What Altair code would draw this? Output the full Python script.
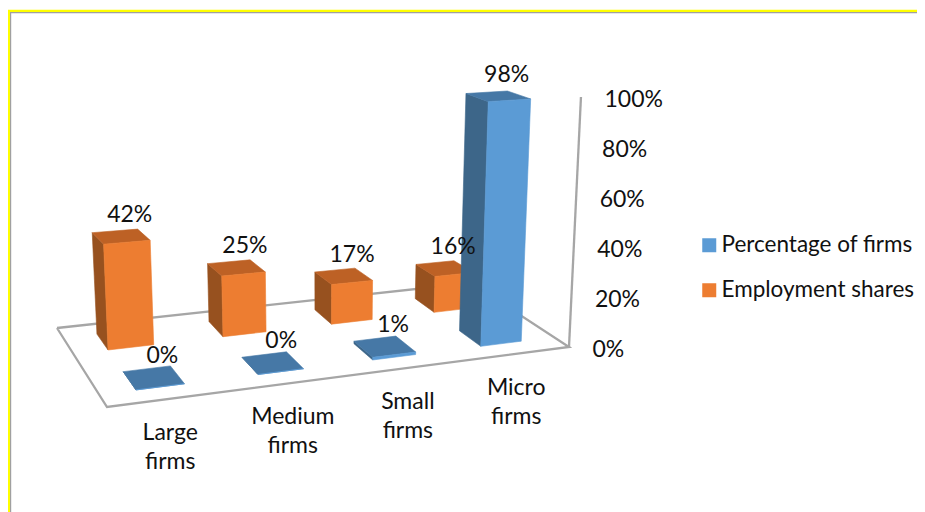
import altair as alt
import numpy as np
import pandas as pd

# --- chart values
categories = ["Large firms", "Medium firms", "Small firms", "Micro firms"]
cat_lines = [["Large", "firms"], ["Medium", "firms"], ["Small", "firms"], ["Micro", "firms"]]
firms = [0, 0, 1, 98]
employment = [42, 25, 17, 16]
ticks = [0, 20, 40, 60, 80, 100]
S1, S2 = "Percentage of firms", "Employment shares"

# --- camera of the 3-D scene: floor corners on the page
FL, FR, BR, BL = (107, 407), (569, 347), (471, 283), (57, 328)

def homography():
    src = [(0, 0), (4, 0), (4, 1), (0, 1)]
    dst = [FL, FR, BR, BL]
    A, b = [], []
    for (u, v), (x, y) in zip(src, dst):
        A.append([u, v, 1, 0, 0, 0, -u * x, -v * x]); b.append(x)
        A.append([0, 0, 0, u, v, 1, -u * y, -v * y]); b.append(y)
    h = np.linalg.solve(np.array(A, float), np.array(b, float))
    return np.append(h, 1).reshape(3, 3)

H = homography()

def project(u, v, val=0.0):
    p = H @ np.array([u, v, 1.0])
    fx, fy = p[0] / p[2], p[1] / p[2]
    s = 2.5 + 0.008 * (fy - 347) * (1 - val / 250)
    return fx + (fx - 325) * val * 0.00049, fy - val * s

BAR_U = (0.29, 0.68)
ROW_V = {S1: (0.14, 0.36), S2: (0.64, 0.86)}

faces, tops = [], []
fid = 0
def add_face(series, shade, corners):
    global fid
    fid += 1
    key = series if shade == "front" else f"{series} {shade}"
    for i, c in enumerate(corners + corners[:1]):
        x, y = project(*c)
        faces.append({"x": x, "y": y, "face": fid, "i": i, "shade": key})

for series, vals in ((S2, employment), (S1, firms)):
    v0, v1 = ROW_V[series]
    for k, val in enumerate(vals):
        u0, u1 = k + BAR_U[0], k + BAR_U[1]
        add_face(series, "side", [(u0, v0, 0), (u0, v1, 0), (u0, v1, val), (u0, v0, val)])
        add_face(series, "top", [(u0, v0, val), (u1, v0, val), (u1, v1, val), (u0, v1, val)])
        add_face(series, "front", [(u0, v0, 0), (u1, v0, 0), (u1, v0, val), (u0, v0, val)])
        x, y = project(k + 0.5, (v0 + v1) / 2, val)
        tops.append({"x": x + 7, "y": y - 21.5, "t": f"{val}%"})

faces = pd.DataFrame(faces)
value_labels = pd.DataFrame(tops)

grid = []
for sid, pts in enumerate([[(0, 1), (0, 0), (4, 0), (4, 1), (0, 1)]]):
    for i, (u, v) in enumerate(pts):
        x, y = project(u, v)
        grid.append({"x": x, "y": y, "id": sid, "i": i})
for i, val in enumerate((0, 100)):
    x, y = project(4, 0, val)
    grid.append({"x": x, "y": y, "id": 1, "i": i})
grid = pd.DataFrame(grid)

cat_text = []
for k, lines in enumerate(cat_lines):
    x, y = project(k + 0.5, 0)
    for j, line in enumerate(lines):
        cat_text.append({"x": x - 1, "y": y + 34 + 29 * j, "t": line})
cat_text = pd.DataFrame(cat_text)

tick_text = []
for t in ticks:
    x, y = project(4, 0, t)
    tick_text.append({"x": x + 23.5, "y": y + 3, "t": f"{t}%"})
tick_text = pd.DataFrame(tick_text)

border = pd.DataFrame([
    {"x": 917, "y": 11, "id": "y", "i": 0}, {"x": 9, "y": 11, "id": "y", "i": 1}, {"x": 9, "y": 512, "id": "y", "i": 2},
    {"x": 917, "y": 12.6, "id": "g", "i": 0}, {"x": 10.6, "y": 12.6, "id": "g", "i": 1}, {"x": 10.6, "y": 512, "id": "g", "i": 2},
])

W, H_PX = 909, 504
X = alt.X("x:Q", axis=None, scale=alt.Scale(domain=[8, 917], nice=False, zero=False))
Y = alt.Y("y:Q", axis=None, scale=alt.Scale(domain=[512, 8], nice=False, zero=False))

border_layer = alt.Chart(border).mark_line(strokeCap="butt", clip=True).encode(
    X, Y, detail="id:N", order="i:Q",
    stroke=alt.Stroke("id:N", legend=None, scale=alt.Scale(domain=["y", "g"], range=["#ffff00", "#a0a0a0"])),
    strokeWidth=alt.StrokeWidth("id:N", legend=None, scale=alt.Scale(domain=["y", "g"], range=[2.4, 1.2])),
)
grid_layer = alt.Chart(grid).mark_line(color="#a6a6a6", strokeWidth=2.3).encode(X, Y, detail="id:N", order="i:Q")

dom = [S1, S2, f"{S1} side", f"{S1} top", f"{S2} side", f"{S2} top"]
rng = ["#5b9bd5", "#ed7d31", "#3d6689", "#4678a6", "#97511f", "#bd6125"]
face_layer = alt.Chart(faces).mark_line(strokeWidth=0.6).encode(
    X, Y, detail="face:N", order="i:Q",
    fill=alt.Fill("shade:N", title=None, scale=alt.Scale(domain=dom, range=rng),
                  legend=alt.Legend(values=[S1, S2], orient="none", legendX=690, legendY=226,
                                    symbolType="square", symbolSize=196, symbolStrokeWidth=0,
                                    labelFont="Lato", labelFontSize=22.5, labelColor="#111111",
                                    labelOffset=1, rowPadding=22, labelLimit=300)),
    stroke=alt.Stroke("shade:N", legend=None, scale=alt.Scale(domain=dom, range=rng)),
)

def text_layer(df, align="center"):
    return alt.Chart(df).mark_text(font="Lato", fontSize=23, color="#111111", align=align, baseline="middle").encode(X, Y, text="t:N")

chart = alt.layer(border_layer, grid_layer, face_layer, text_layer(value_labels), text_layer(cat_text), text_layer(tick_text, "left")).resolve_scale(
    fill="independent", stroke="independent"
).properties(width=W, height=H_PX, padding=0, autosize=alt.AutoSizeParams(type="none")).configure_view(stroke=None)

chart.save("out.html", embed_options={"renderer": "svg", "actions": False})
